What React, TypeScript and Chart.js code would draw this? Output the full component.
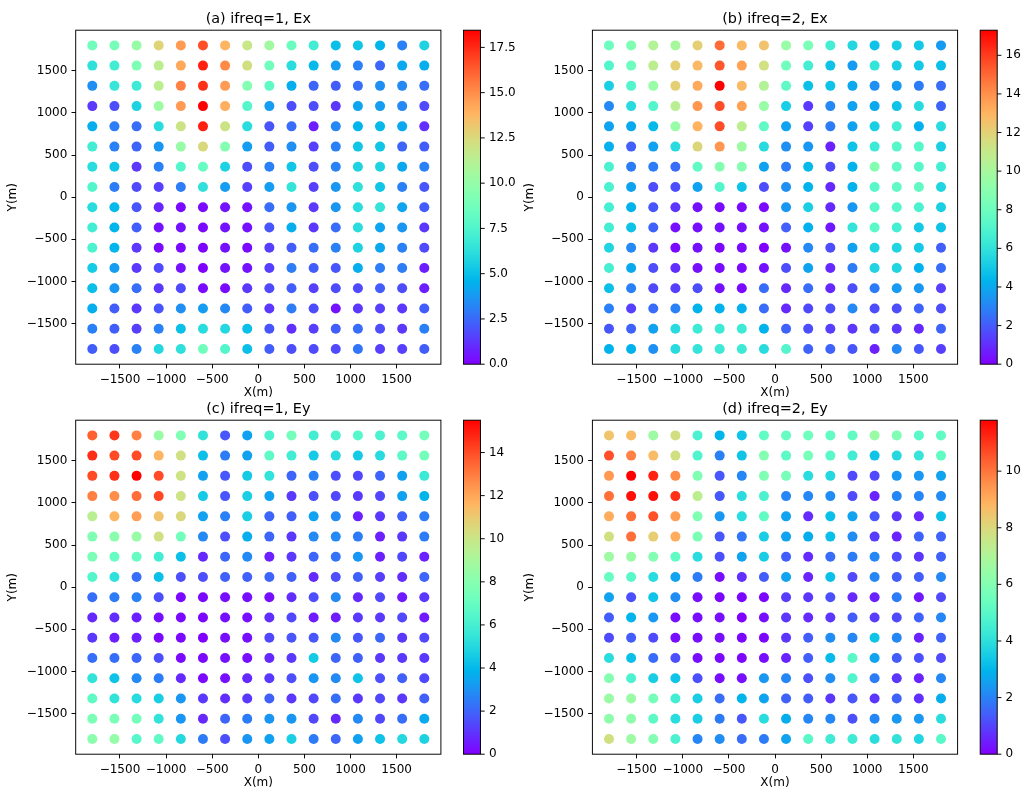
import React, { useEffect, useRef } from "react";
import { Chart, registerables } from "chart.js";

Chart.register(...registerables);

// ---------------- data ----------------
const xPositions = [-1800, -1560, -1320, -1080, -840, -600, -360, -120, 120, 360, 600, 840, 1080, 1320, 1560, 1800];
const yPositions = [1800, 1560, 1320, 1080, 840, 600, 360, 120, -120, -360, -600, -840, -1080, -1320, -1560, -1800];
const axisTicks = [-1500, -1000, -500, 0, 500, 1000, 1500];

// rows: y = 1800 (top) ... -1800 (bottom); columns: x = -1800 ... 1800
const exFreq1: number[][] = [
  [8.7, 8.9, 10.1, 12.7, 14.6, 16.6, 13.8, 11.8, 10.5, 8.5, 7.0, 5.0, 5.2, 4.6, 3.1, 5.7],
  [6.3, 7.0, 9.2, 11.4, 14.2, 17.7, 15.1, 12.2, 8.7, 6.1, 4.8, 3.9, 3.1, 2.4, 4.2, 4.4],
  [3.5, 6.6, 6.8, 11.4, 15.3, 17.3, 14.6, 9.4, 8.1, 4.4, 2.4, 2.2, 2.6, 3.5, 3.3, 2.6],
  [1.3, 1.8, 5.7, 10.3, 14.6, 18.45, 14.0, 7.7, 3.9, 1.8, 1.8, 1.3, 4.1, 3.9, 3.3, 1.7],
  [4.4, 3.0, 2.6, 6.1, 12.0, 17.7, 12.0, 6.1, 2.0, 2.6, 0.7, 3.3, 4.6, 4.8, 4.2, 1.1],
  [7.0, 3.1, 2.4, 3.7, 10.1, 12.5, 9.4, 3.9, 2.2, 3.5, 1.5, 3.1, 5.2, 5.2, 2.4, 2.2],
  [6.1, 5.2, 1.3, 3.1, 7.6, 8.3, 5.7, 1.8, 3.1, 5.2, 1.8, 3.1, 5.7, 5.7, 4.2, 3.1],
  [7.6, 3.0, 1.7, 1.5, 3.0, 6.3, 3.9, 1.5, 3.9, 6.5, 1.5, 3.7, 6.3, 5.2, 3.1, 2.0],
  [6.1, 4.8, 2.0, 0.9, 0.2, 0.2, 0.4, 0.4, 2.6, 3.7, 1.3, 3.7, 6.1, 6.5, 4.1, 2.2],
  [7.0, 4.6, 2.2, 0.4, 0.4, 0.2, 0.4, 0.4, 2.0, 4.4, 1.3, 2.6, 6.1, 4.1, 3.7, 1.3],
  [7.4, 4.6, 1.3, 0.2, 0.2, 0.1, 0.4, 0.2, 1.5, 2.2, 2.6, 3.1, 5.7, 4.2, 3.1, 1.7],
  [5.4, 3.9, 1.3, 1.7, 0.4, 0.0, 0.4, 0.4, 1.5, 3.0, 2.2, 2.0, 4.4, 3.0, 3.0, 0.7],
  [5.0, 3.7, 2.6, 1.3, 1.7, 0.2, 0.2, 1.3, 1.7, 2.2, 1.5, 1.8, 1.7, 2.2, 1.8, 0.7],
  [4.4, 2.2, 1.3, 2.0, 3.5, 3.9, 3.3, 2.2, 1.3, 3.0, 1.8, 0.4, 1.3, 1.5, 1.3, 2.2],
  [3.1, 2.2, 1.5, 3.1, 5.0, 6.1, 5.9, 5.0, 2.0, 1.1, 1.5, 2.2, 2.6, 1.8, 1.3, 3.1],
  [2.2, 1.8, 3.1, 5.9, 6.3, 8.7, 7.6, 5.0, 2.2, 1.8, 1.7, 1.7, 2.8, 1.5, 1.5, 2.2],
];

const exFreq2: number[][] = [
  [8.0, 8.65, 10.4, 10.0, 12.1, 14.9, 12.8, 12.5, 9.5, 8.5, 6.6, 5.5, 4.8, 5.2, 5.0, 3.6],
  [7.1, 8.0, 10.7, 12.1, 12.8, 15.4, 13.5, 11.4, 8.1, 6.6, 4.8, 3.6, 6.1, 5.2, 5.0, 4.7],
  [5.2, 7.1, 9.5, 12.1, 13.3, 17.3, 12.8, 10.4, 7.6, 4.7, 4.8, 4.0, 3.3, 3.6, 2.8, 2.4],
  [3.1, 5.7, 7.1, 10.6, 13.8, 15.6, 13.5, 9.5, 5.2, 1.2, 3.1, 3.8, 4.0, 4.8, 5.7, 2.2],
  [3.8, 4.0, 4.5, 9.5, 13.0, 15.6, 10.7, 7.6, 3.8, 1.4, 2.8, 3.8, 5.2, 6.6, 4.2, 5.7],
  [4.2, 2.1, 3.8, 5.7, 11.8, 13.8, 9.7, 5.7, 3.3, 3.5, 0.7, 4.8, 6.4, 7.3, 7.3, 5.2],
  [6.9, 2.8, 2.8, 2.4, 7.6, 8.8, 8.8, 3.8, 2.8, 4.5, 1.6, 4.3, 8.8, 7.6, 7.3, 6.6],
  [6.9, 3.8, 1.7, 1.7, 3.8, 7.1, 4.8, 1.7, 3.3, 4.3, 0.9, 4.3, 7.3, 7.6, 7.6, 5.4],
  [6.7, 4.3, 1.9, 1.2, 0.35, 0.2, 0.2, 0.2, 3.5, 5.2, 0.9, 3.5, 7.3, 7.3, 6.9, 5.2],
  [6.6, 4.8, 2.2, 0.35, 0.35, 0.35, 0.35, 0.35, 2.1, 4.2, 0.5, 6.1, 7.4, 6.6, 5.0, 4.8],
  [5.4, 3.1, 1.2, 0.2, 0.35, 0.1, 0.2, 0.0, 0.35, 3.1, 1.7, 3.8, 5.4, 5.4, 5.0, 2.1],
  [6.7, 4.0, 1.7, 1.0, 0.35, 0.2, 0.2, 0.35, 1.7, 3.8, 0.9, 2.8, 5.4, 5.4, 4.3, 2.4],
  [4.7, 2.9, 1.6, 1.4, 1.7, 0.35, 0.2, 2.4, 0.9, 2.4, 0.9, 1.7, 2.8, 3.6, 3.5, 1.4],
  [2.9, 1.4, 2.4, 2.9, 4.3, 4.3, 4.2, 2.4, 0.9, 1.6, 1.7, 3.1, 1.7, 1.7, 2.2, 1.7],
  [1.9, 2.2, 3.8, 5.7, 6.4, 6.4, 6.4, 4.3, 2.2, 1.7, 1.4, 1.2, 1.6, 1.2, 0.9, 2.2],
  [4.3, 4.3, 3.3, 5.7, 6.1, 6.4, 6.4, 5.7, 7.1, 2.2, 2.2, 1.9, 0.7, 3.1, 1.9, 1.4],
];

const eyFreq1: number[][] = [
  [13.6, 14.4, 12.9, 8.5, 7.75, 5.4, 1.7, 3.4, 6.2, 7.4, 5.9, 6.2, 6.5, 6.2, 6.7, 7.4],
  [14.6, 14.0, 14.0, 11.6, 10.2, 4.2, 2.5, 3.4, 6.8, 5.9, 4.5, 5.1, 4.5, 5.1, 6.7, 7.4],
  [14.0, 14.6, 15.5, 14.0, 10.1, 3.4, 1.7, 4.5, 5.4, 2.0, 2.6, 1.55, 1.4, 2.0, 3.4, 5.7],
  [12.9, 12.6, 13.3, 14.1, 10.1, 4.5, 1.7, 4.65, 3.4, 1.1, 1.55, 1.4, 1.1, 1.4, 3.4, 3.9],
  [9.5, 11.6, 12.2, 11.2, 10.5, 3.4, 2.6, 4.65, 2.0, 1.9, 3.4, 2.8, 0.6, 1.1, 1.9, 2.5],
  [7.75, 8.1, 8.5, 10.2, 7.4, 2.8, 1.55, 3.7, 2.0, 1.1, 2.8, 2.8, 2.5, 0.6, 1.1, 2.5],
  [7.6, 7.0, 7.0, 5.9, 4.2, 0.8, 2.0, 2.8, 0.6, 1.1, 2.0, 2.3, 3.1, 0.6, 1.4, 0.6],
  [6.4, 5.3, 2.2, 4.2, 1.55, 1.55, 1.9, 1.9, 2.0, 1.9, 0.8, 1.55, 1.9, 1.2, 0.9, 2.0],
  [2.2, 2.5, 2.6, 1.55, 0.15, 0.15, 0.3, 0.3, 0.3, 0.9, 1.55, 2.8, 0.8, 1.4, 0.5, 1.1],
  [0.8, 0.9, 0.6, 0.3, 0.15, 0.1, 0.3, 0.3, 0.9, 1.4, 0.5, 0.5, 1.1, 1.1, 1.4, 0.5],
  [1.1, 0.6, 0.6, 0.15, 0.15, 0.0, 0.3, 0.3, 1.4, 1.7, 1.7, 2.8, 1.7, 2.0, 1.1, 1.4],
  [2.2, 2.2, 2.0, 1.55, 0.15, 0.15, 0.3, 0.3, 0.8, 1.1, 4.5, 2.0, 1.9, 1.1, 1.1, 1.1],
  [5.4, 4.3, 2.8, 2.5, 0.8, 0.15, 0.3, 0.8, 1.1, 1.55, 3.1, 2.8, 4.3, 1.55, 1.9, 1.4],
  [6.8, 5.4, 5.1, 4.65, 3.1, 1.1, 0.9, 1.1, 1.9, 1.1, 1.4, 2.2, 1.1, 1.4, 1.1, 1.9],
  [7.6, 7.6, 7.4, 5.4, 3.1, 0.8, 2.0, 2.5, 3.1, 3.1, 1.4, 0.8, 2.8, 1.4, 2.2, 3.6],
  [8.1, 8.4, 6.5, 6.8, 5.0, 2.5, 1.55, 3.1, 3.4, 4.65, 2.5, 2.0, 3.4, 4.3, 5.0, 4.8],
];

const eyFreq2: number[][] = [
  [8.5, 8.7, 6.6, 7.8, 4.7, 2.95, 3.3, 5.2, 5.3, 5.5, 5.2, 5.2, 6.5, 5.9, 5.0, 5.2],
  [10.6, 9.8, 8.7, 7.8, 4.8, 2.0, 3.3, 6.0, 5.1, 5.7, 5.0, 4.5, 3.3, 3.8, 4.2, 5.2],
  [9.4, 11.8, 11.3, 9.6, 5.9, 1.3, 2.1, 5.9, 5.7, 3.9, 3.8, 1.1, 1.1, 2.4, 2.4, 2.6],
  [10.1, 11.6, 11.6, 11.1, 7.3, 1.3, 3.9, 4.7, 2.1, 2.1, 2.2, 1.1, 0.5, 2.1, 2.1, 2.2],
  [9.0, 10.1, 10.6, 9.3, 5.9, 2.4, 3.9, 5.2, 2.6, 0.6, 3.2, 2.6, 1.3, 0.8, 0.6, 3.2],
  [7.8, 10.1, 8.3, 9.0, 5.8, 1.3, 1.8, 3.5, 2.6, 2.8, 3.2, 2.2, 0.9, 0.5, 1.5, 1.5],
  [6.6, 6.5, 6.0, 5.2, 3.9, 1.2, 2.6, 3.5, 1.4, 0.6, 1.65, 1.9, 2.1, 1.1, 0.8, 1.5],
  [5.3, 5.0, 3.9, 2.6, 1.9, 0.2, 0.7, 1.4, 2.6, 0.5, 3.2, 1.1, 2.1, 1.4, 1.4, 2.1],
  [2.6, 1.2, 3.3, 2.2, 0.2, 0.1, 0.1, 0.1, 0.9, 0.8, 1.2, 0.6, 0.5, 1.9, 0.35, 1.1],
  [1.4, 2.95, 2.4, 0.2, 0.2, 0.2, 0.0, 0.2, 0.8, 0.6, 0.8, 1.4, 0.9, 1.1, 1.5, 2.1],
  [1.1, 1.4, 1.1, 0.2, 0.2, 0.2, 0.1, 0.1, 0.8, 1.4, 2.2, 2.1, 3.3, 2.1, 0.5, 1.5],
  [3.9, 3.2, 1.65, 1.2, 0.2, 0.1, 0.1, 0.2, 0.5, 1.4, 3.1, 5.0, 2.6, 1.4, 1.2, 1.1],
  [6.0, 4.7, 3.5, 3.3, 1.2, 0.2, 0.2, 2.4, 2.1, 1.2, 2.2, 4.8, 1.9, 0.8, 0.5, 2.1],
  [6.5, 6.5, 5.7, 4.5, 3.5, 1.65, 2.95, 2.6, 1.5, 1.4, 0.8, 1.3, 0.8, 1.5, 0.7, 2.8],
  [6.25, 6.25, 5.1, 3.9, 3.5, 1.9, 1.3, 3.9, 2.8, 2.1, 2.1, 1.2, 2.1, 2.4, 2.4, 3.9],
  [7.8, 6.6, 6.0, 4.7, 2.1, 2.2, 1.65, 1.9, 2.6, 5.0, 4.4, 4.4, 3.9, 4.1, 3.7, 5.0],
];

const cbTicksExFreq1 = [0, 2.5, 5, 7.5, 10, 12.5, 15, 17.5];
const cbTicksExFreq2 = [0, 2, 4, 6, 8, 10, 12, 14, 16];
const cbTicksEyFreq1 = [0, 2, 4, 6, 8, 10, 12, 14];
const cbTicksEyFreq2 = [0, 2, 4, 6, 8, 10];

const titles = ["(a) ifreq=1, Ex", "(b) ifreq=2, Ex", "(c) ifreq=1, Ey", "(d) ifreq=2, Ey"];

// ---------------- layout ----------------
const FIG_W = 1023;
const FIG_H = 794;
const FONT = '"DejaVu Sans", "Liberation Sans", sans-serif';
const AX_W = 365.2;
const AX_H = 334;
const Y_SCALE_W = 60;
const X_SCALE_H = 30;
const CB_GAP = 22.6;
const CB_W = 17;
const TICK_LEN = 4.2;
const TICK_PAD = 4.2;
const LINE_W = 0.96;
const X_RANGE = 1980;

type Panel = {
  title: string;
  values: number[][];
  cbTicks: number[];
  cbDecimals: number;
  left: number;
  top: number;
};

const PANELS: Panel[] = [
  { title: titles[0], values: exFreq1, cbTicks: cbTicksExFreq1, cbDecimals: 1, left: 75.7, top: 30.2 },
  { title: titles[1], values: exFreq2, cbTicks: cbTicksExFreq2, cbDecimals: 0, left: 592.4, top: 30.2 },
  { title: titles[2], values: eyFreq1, cbTicks: cbTicksEyFreq1, cbDecimals: 0, left: 75.7, top: 420.2 },
  { title: titles[3], values: eyFreq2, cbTicks: cbTicksEyFreq2, cbDecimals: 0, left: 592.4, top: 420.2 },
];

// matplotlib "rainbow" colormap
function rainbow(t: number): string {
  const c = Math.min(1, Math.max(0, t));
  const r = Math.min(1, Math.abs(2 * c - 0.5));
  const g = Math.max(0, Math.sin(Math.PI * c));
  const b = Math.max(0, Math.cos((Math.PI * c) / 2));
  return `rgb(${Math.round(r * 255)},${Math.round(g * 255)},${Math.round(b * 255)})`;
}

const fmtAxis = (v: number) => (v < 0 ? "\u2212" + Math.abs(v) : String(v));

function buildConfig(p: Panel): any {
  const flat = p.values.flat();
  const vmin = Math.min(...flat);
  const vmax = Math.max(...flat);
  const points: { x: number; y: number }[] = [];
  const colors: string[] = [];
  p.values.forEach((row, i) =>
    row.forEach((v, j) => {
      points.push({ x: xPositions[j], y: yPositions[i] });
      colors.push(rainbow((v - vmin) / (vmax - vmin)));
    })
  );

  const right = p.left + AX_W;
  const bottom = p.top + AX_H;

  const tickFont = { family: FONT, size: 12 };
  const gridCfg = {
    display: true,
    drawOnChartArea: false,
    drawTicks: true,
    tickLength: TICK_LEN,
    color: "#000",
    lineWidth: LINE_W,
  };

  const decor = {
    id: "decor",
    afterDraw(chart: any) {
      const { ctx, chartArea: a } = chart;
      ctx.save();
      ctx.strokeStyle = "#000";
      ctx.lineWidth = LINE_W;
      ctx.strokeRect(a.left, a.top, a.right - a.left, a.bottom - a.top);

      ctx.fillStyle = "#000";
      ctx.font = `14.4px ${FONT}`;
      ctx.textAlign = "center";
      ctx.textBaseline = "alphabetic";
      ctx.fillText(p.title, (a.left + a.right) / 2, a.top - 7.2);

      ctx.font = `12px ${FONT}`;
      ctx.textBaseline = "middle";
      ctx.fillText("X(m)", (a.left + a.right) / 2, a.bottom + 29);
      ctx.save();
      ctx.translate(a.left - 63, (a.top + a.bottom) / 2);
      ctx.rotate(-Math.PI / 2);
      ctx.fillText("Y(m)", 0, 0);
      ctx.restore();

      // colorbar
      const cx = a.right + CB_GAP;
      const h = a.bottom - a.top;
      const grad = ctx.createLinearGradient(0, a.bottom, 0, a.top);
      for (let i = 0; i <= 128; i++) grad.addColorStop(i / 128, rainbow(i / 128));
      ctx.fillStyle = grad;
      ctx.fillRect(cx, a.top, CB_W, h);
      ctx.strokeStyle = "#000";
      ctx.lineWidth = LINE_W;
      ctx.strokeRect(cx, a.top, CB_W, h);

      ctx.fillStyle = "#000";
      ctx.textAlign = "left";
      ctx.textBaseline = "middle";
      ctx.font = `12px ${FONT}`;
      p.cbTicks.forEach((v) => {
        const y = a.bottom - ((v - vmin) / (vmax - vmin)) * h;
        ctx.beginPath();
        ctx.moveTo(cx + CB_W, y);
        ctx.lineTo(cx + CB_W + TICK_LEN, y);
        ctx.stroke();
        ctx.fillText(v.toFixed(p.cbDecimals), cx + CB_W + TICK_LEN + TICK_PAD, y);
      });
      ctx.restore();
    },
  };

  return {
    type: "scatter",
    data: {
      datasets: [
        {
          data: points,
          pointBackgroundColor: colors,
          pointBorderWidth: 0,
          pointRadius: 5,
          pointHoverRadius: 5,
        },
      ],
    },
    options: {
      animation: false,
      responsive: false,
      events: [],
      layout: {
        padding: {
          left: p.left - Y_SCALE_W,
          top: p.top,
          right: FIG_W - right,
          bottom: FIG_H - bottom - X_SCALE_H,
        },
      },
      plugins: {
        legend: { display: false },
        tooltip: { enabled: false },
        title: { display: false },
      },
      scales: {
        x: {
          type: "linear",
          min: -X_RANGE,
          max: X_RANGE,
          afterFit: (s: any) => {
            s.height = X_SCALE_H;
          },
          afterBuildTicks: (s: any) => {
            s.ticks = axisTicks.map((value) => ({ value }));
          },
          grid: gridCfg,
          border: { display: false },
          ticks: {
            color: "#000",
            font: tickFont,
            padding: TICK_PAD,
            autoSkip: false,
            maxRotation: 0,
            minRotation: 0,
            callback: (v: number) => fmtAxis(v),
          },
        },
        y: {
          type: "linear",
          min: -X_RANGE,
          max: X_RANGE,
          afterFit: (s: any) => {
            s.width = Y_SCALE_W;
          },
          afterBuildTicks: (s: any) => {
            s.ticks = axisTicks.map((value) => ({ value }));
          },
          grid: gridCfg,
          border: { display: false },
          ticks: {
            color: "#000",
            font: tickFont,
            padding: TICK_PAD,
            autoSkip: false,
            callback: (v: number) => fmtAxis(v),
          },
        },
      },
    },
    plugins: [decor],
  };
}

export default function App() {
  const refs = useRef<(HTMLCanvasElement | null)[]>([]);

  useEffect(() => {
    const charts = PANELS.map((p, i) => new Chart(refs.current[i] as HTMLCanvasElement, buildConfig(p)));
    return () => charts.forEach((c) => c.destroy());
  }, []);

  return (
    <div
      style={{
        position: "fixed",
        left: 0,
        top: 0,
        width: FIG_W,
        height: FIG_H,
        background: "#fff",
        overflow: "hidden",
      }}
    >
      {PANELS.map((p, i) => (
        <canvas
          key={i}
          ref={(el) => {
            refs.current[i] = el;
          }}
          width={FIG_W}
          height={FIG_H}
          style={{ position: "absolute", left: 0, top: 0, width: FIG_W, height: FIG_H }}
        />
      ))}
    </div>
  );
}
